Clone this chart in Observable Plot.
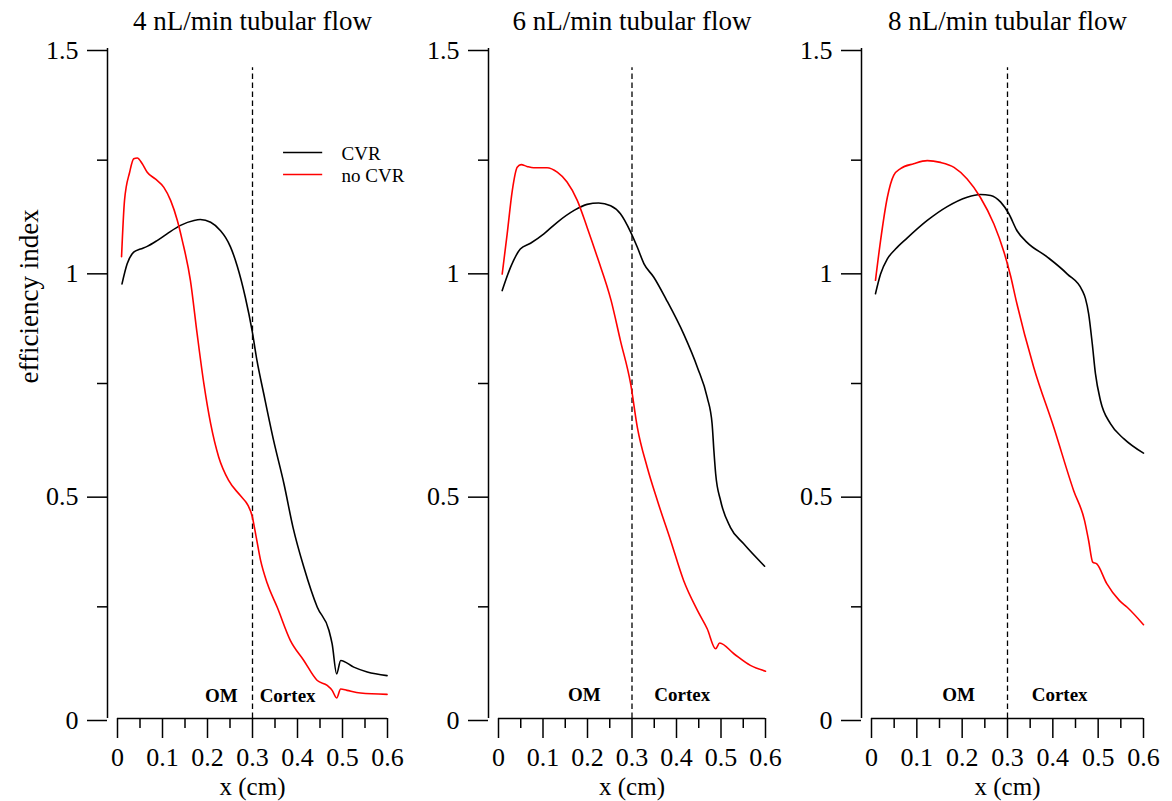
<!DOCTYPE html>
<html>
<head>
<meta charset="utf-8">
<script src="https://cdn.jsdelivr.net/npm/d3@7"></script>
<script src="https://cdn.jsdelivr.net/npm/@observablehq/plot@0.6"></script>
<style>
  body { margin: 0; background: #fff; }
  #chart { position: relative; width: 1172px; height: 801px; background: #fff; }
</style>
</head>
<body>
<div id="chart"></div>
<script>
// ---- data ----
const seriesNames = ["CVR", "no CVR"];
const panelTitles = ["4 nL/min tubular flow", "6 nL/min tubular flow", "8 nL/min tubular flow"];
const yTicksMajor = [0, 0.5, 1, 1.5];
const yTicksMinor = [0.25, 0.75, 1.25];
const xTicksMajor = [0, 0.1, 0.2, 0.3, 0.4, 0.5, 0.6];
const xTicksMinor = [0.05, 0.15, 0.25, 0.35, 0.45, 0.55];
const boundaryX = 0.3;
const boundaryTop = 1.457;
const regionNames = ["OM", "Cortex"];

const cvr4 = [[0.010,0.973],[0.0215,1.018],[0.036,1.044],[0.051,1.051],[0.066,1.057],[0.088,1.070],[0.110,1.085],[0.140,1.104],[0.170,1.115],[0.184,1.117],[0.207,1.111],[0.229,1.092],[0.240,1.077],[0.251,1.056],[0.266,1.013],[0.284,0.943],[0.299,0.869],[0.310,0.801],[0.325,0.727],[0.347,0.622],[0.370,0.525],[0.390,0.428],[0.414,0.339],[0.444,0.249],[0.470,0.197],[0.477,0.167],[0.487,0.100],[0.496,0.130],[0.525,0.115],[0.555,0.104],[0.599,0.096]];
const noCvr4 = [[0.009,1.034],[0.0156,1.160],[0.027,1.223],[0.036,1.253],[0.044,1.255],[0.055,1.242],[0.066,1.223],[0.084,1.208],[0.103,1.189],[0.118,1.160],[0.133,1.115],[0.144,1.070],[0.162,0.981],[0.177,0.861],[0.192,0.749],[0.207,0.660],[0.225,0.585],[0.247,0.533],[0.273,0.499],[0.290,0.477],[0.299,0.454],[0.307,0.413],[0.318,0.354],[0.333,0.302],[0.355,0.249],[0.384,0.175],[0.414,0.130],[0.444,0.085],[0.466,0.074],[0.477,0.063],[0.487,0.046],[0.496,0.066],[0.510,0.063],[0.540,0.057],[0.599,0.054]];

const cvr6 = [[0.0083,0.958],[0.027,1.010],[0.049,1.051],[0.072,1.064],[0.102,1.085],[0.132,1.111],[0.169,1.137],[0.199,1.151],[0.225,1.154],[0.252,1.148],[0.274,1.130],[0.297,1.089],[0.312,1.055],[0.327,1.018],[0.349,0.988],[0.377,0.938],[0.416,0.861],[0.447,0.786],[0.469,0.719],[0.480,0.660],[0.484,0.600],[0.488,0.548],[0.499,0.488],[0.521,0.428],[0.551,0.391],[0.598,0.341]];
const noCvr6 = [[0.0083,0.995],[0.0195,1.085],[0.031,1.182],[0.042,1.234],[0.051,1.240],[0.064,1.236],[0.079,1.233],[0.109,1.233],[0.132,1.223],[0.154,1.201],[0.177,1.160],[0.199,1.100],[0.222,1.033],[0.253,0.936],[0.274,0.846],[0.297,0.749],[0.312,0.652],[0.334,0.563],[0.357,0.488],[0.387,0.398],[0.416,0.309],[0.447,0.242],[0.469,0.201],[0.488,0.156],[0.497,0.169],[0.529,0.145],[0.566,0.119],[0.600,0.106]];

const cvr8 = [[0.0088,0.951],[0.020,0.995],[0.035,1.029],[0.053,1.051],[0.079,1.076],[0.123,1.115],[0.167,1.146],[0.211,1.167],[0.240,1.173],[0.263,1.171],[0.285,1.156],[0.303,1.130],[0.321,1.092],[0.343,1.066],[0.388,1.033],[0.432,0.995],[0.465,0.958],[0.472,0.940],[0.479,0.906],[0.487,0.839],[0.494,0.772],[0.505,0.712],[0.527,0.660],[0.557,0.626],[0.600,0.594]];
const noCvr8 = [[0.0088,0.981],[0.020,1.070],[0.035,1.167],[0.049,1.216],[0.064,1.231],[0.093,1.242],[0.123,1.249],[0.152,1.245],[0.182,1.234],[0.211,1.208],[0.240,1.167],[0.270,1.107],[0.292,1.045],[0.307,0.990],[0.319,0.936],[0.358,0.786],[0.402,0.652],[0.446,0.510],[0.470,0.443],[0.479,0.398],[0.488,0.350],[0.497,0.346],[0.519,0.302],[0.547,0.264],[0.564,0.249],[0.600,0.210]];

// ---- layout (pixels) ----
const FONT = "'Liberation Serif', 'Times New Roman', serif";
const layout = [
  {left: 0,   width: 400, x0: 117, x1: 387, omX: 0.231, cortexX: 0.378, regionY: 0.036, yLabel: true, legend: true},
  {left: 381, width: 400, x0: 498, x1: 765, omX: 0.193, cortexX: 0.413, regionY: 0.040},
  {left: 754, width: 409, x0: 871, x1: 1143, omX: 0.192, cortexX: 0.415, regionY: 0.040}
];
const series = [[cvr4, noCvr4], [cvr6, noCvr6], [cvr8, noCvr8]];

const chart = document.getElementById("chart");

layout.forEach((L, i) => {
  const rows = [];
  series[i].forEach((pts, s) => pts.forEach(([x, y]) => rows.push({x, y, series: seriesNames[s]})));

  const marks = [
    // y axis line (detached, 10px left of x=0)
    Plot.ruleX([0], {y1: 0, y2: 1.5, dx: -10, stroke: "black", strokeWidth: 1.5}),
    Plot.axisY({ticks: yTicksMajor, tickSize: 20, tickPadding: 9, dx: -10, dy: 2,
      tickFormat: d => String(d), fontSize: 26, fontFamily: FONT, label: null, strokeWidth: 1.5}),
    Plot.axisY({ticks: yTicksMinor, tickSize: 10, dx: -10, tickFormat: () => "", label: null, strokeWidth: 1.5}),
    // x axis
    Plot.ruleY([0], {x1: 0, x2: 0.6, stroke: "black", strokeWidth: 1.5}),
    Plot.axisX({ticks: xTicksMajor, tickSize: 20, tickPadding: 9,
      tickFormat: d => String(d), fontSize: 26, fontFamily: FONT, label: null, strokeWidth: 1.5}),
    Plot.axisX({ticks: xTicksMinor, tickSize: 10, tickFormat: () => "", label: null, strokeWidth: 1.5}),
    // boundary
    Plot.ruleX([boundaryX], {y1: 0, y2: boundaryTop, stroke: "black", strokeWidth: 1.3, strokeDasharray: "5.5,3.5"}),
    // curves
    Plot.line(rows, {x: "x", y: "y", z: "series", stroke: "series", strokeWidth: 1.6, curve: "monotone-x"}),
    // region labels
    Plot.text([regionNames[0]], {x: L.omX, y: L.regionY, text: d => d, fontWeight: "bold", fontSize: 19, fontFamily: FONT, lineAnchor: "bottom", textAnchor: "middle"}),
    Plot.text([regionNames[1]], {x: L.cortexX, y: L.regionY, text: d => d, fontWeight: "bold", fontSize: 19, fontFamily: FONT, lineAnchor: "bottom", textAnchor: "middle"}),
    // title
    Plot.text([panelTitles[i]], {frameAnchor: "top", text: d => d, lineAnchor: "bottom", dy: -19, fontSize: 27, fontFamily: FONT}),
    // x label
    Plot.text(["x (cm)"], {frameAnchor: "bottom", text: d => d, lineAnchor: "bottom", dy: 76, fontSize: 25, fontFamily: FONT})
  ];
  if (L.yLabel) {
    marks.push(Plot.text(["efficiency index"], {frameAnchor: "left", text: d => d, rotate: -90, lineAnchor: "bottom", dx: -80, fontSize: 27, fontFamily: FONT}));
  }
  if (L.legend) {
    const legendRows = [{y: 1.267, s: seriesNames[0]}, {y: 1.218, s: seriesNames[1]}];
    marks.push(Plot.ruleY(legendRows, {y: "y", x1: 0.369, x2: 0.456, stroke: "s", strokeWidth: 1.6}));
    marks.push(Plot.text(legendRows, {y: "y", x: 0.498, text: "s", textAnchor: "start", fontSize: 19, fontFamily: FONT, dy: 1}));
  }

  const svg = Plot.plot({
    width: L.width,
    height: 801,
    marginLeft: L.x0 - L.left,
    marginRight: L.left + L.width - L.x1,
    marginTop: 48,
    marginBottom: 83,
    x: {domain: [0, 0.6]},
    y: {domain: [0, 1.5]},
    color: {domain: seriesNames, range: ["black", "#ff0000"]},
    style: {background: "transparent", overflow: "visible", fontFamily: FONT, color: "black", maxWidth: "none"},
    marks
  });
  svg.style.position = "absolute";
  svg.style.left = L.left + "px";
  svg.style.top = "0px";
  chart.appendChild(svg);
});
</script>
</body>
</html>
